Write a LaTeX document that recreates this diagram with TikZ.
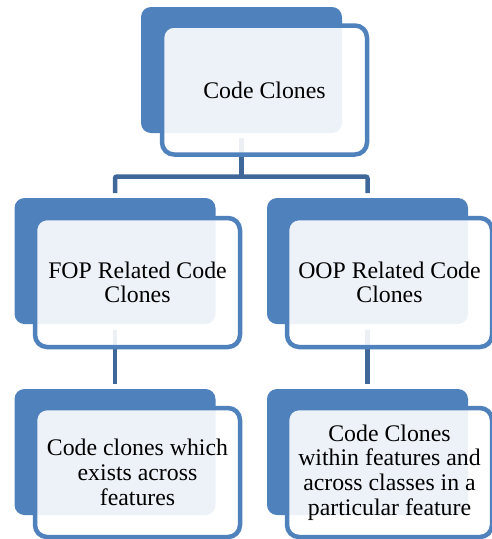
\documentclass[tikz,border=0pt]{standalone}
\usepackage{fontspec}
\setmainfont{Liberation Serif}
\definecolor{boxblue}{RGB}{79,129,189}
\definecolor{connblue}{RGB}{63,103,153}
\begin{document}
\begin{tikzpicture}[x=1pt,y=-1pt,
  backbox/.style={draw=none,fill=boxblue,rounded corners=10pt,
    minimum width=201pt,minimum height=126pt,inner sep=0pt,outer sep=0pt},
  frontbox/.style={draw=boxblue,line width=4.5pt,fill=white,fill opacity=0.9,
    text opacity=1,rounded corners=12pt,minimum width=205pt,minimum height=129pt,
    inner sep=0pt,outer sep=0pt,align=flush center,text width=187pt,
    font=\fontsize{23.8}{24.7}\selectfont},
  conn/.style={draw=connblue,line width=4.5pt}]
\useasboundingbox (0,0) rectangle (492,539);
% back boxes
\node[backbox] (topb) at (241.5,70) {};
\node[backbox] (lb) at (115,261) {};
\node[backbox] (rb) at (367.5,261) {};
\node[backbox] (llb) at (115,452) {};
\node[backbox] (rrb) at (367.5,452) {};
% connectors
\coordinate (bar) at (241,176.5);
\draw[conn] ([yshift=-5pt]topb.south) -- (topb.south |- bar);
\draw[conn,rounded corners=2pt] ([yshift=5pt]lb.north) |- (bar) -| ([yshift=5pt]rb.north);
\draw[conn] ([yshift=-6pt]lb.south) -- ([yshift=5pt]llb.north);
\draw[conn] ([yshift=-6pt]rb.south) -- ([yshift=5pt]rrb.north);
% front boxes
\node[frontbox] (top) at (264.5,90) {Code Clones};
\node[frontbox] (fop) at (137.5,282.5) {FOP Related Code Clones};
\node[frontbox] (oop) at (389.5,282.5) {OOP Related Code Clones};
\node[frontbox] (fopc) at (137.5,472.5) {Code clones which exists across features};
\node[frontbox] (oopc) at (389.5,472.5) {Code Clones within features and across classes in a particular feature};
\end{tikzpicture}
\end{document}
